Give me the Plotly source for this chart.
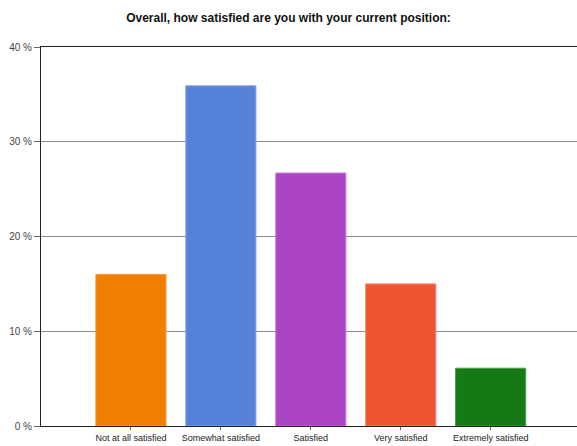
import plotly.graph_objects as go

categories = ["Not at all satisfied", "Somewhat satisfied", "Satisfied", "Very satisfied", "Extremely satisfied"]
percent_values = [16.0, 35.9, 26.7, 15.0, 6.1]
bar_colors = ["#F07E00", "#5582D8", "#AA44C2", "#EE5533", "#157A15"]
edge_colors = ["#FF9A33", "#7FA6F0", "#C77ADD", "#FF8166", "#4C9E4C"]
y_tick_values = [0, 10, 20, 30, 40]
y_tick_labels = ["0 %", "10 %", "20 %", "30 %", "40 %"]

x_pos = list(range(len(categories)))

fig = go.Figure()
fig.add_trace(go.Bar(
    x=x_pos,
    y=percent_values,
    width=0.78,
    marker=dict(color=bar_colors, line=dict(color=edge_colors, width=1)),
    hoverinfo="skip",
))

fig.update_layout(
    width=577, height=446,
    margin=dict(l=41, r=0, t=47, b=20, autoexpand=False),
    paper_bgcolor="white",
    plot_bgcolor="white",
    showlegend=False,
    title=dict(
        text="<b>Overall, how satisfied are you with your current position:</b>",
        x=0.5, xanchor="center", y=0.96, yanchor="middle", yref="container",
        font=dict(family="Liberation Sans, Arial", size=12, color="#111111"),
        automargin=False,
    ),
    font=dict(family="Liberation Sans, Arial", color="#333333"),
)

fig.update_xaxes(
    range=[-1, 4.96],
    tickvals=x_pos,
    ticktext=categories,
    tickfont=dict(size=9, color="#222222"),
    showgrid=False,
    zeroline=False,
    showline=True, linecolor="#222222", linewidth=1, mirror=True,
    ticks="outside", ticklen=3, tickcolor="#666666",
    automargin=False,
    fixedrange=True,
)
fig.update_yaxes(
    range=[0, 40],
    tickvals=y_tick_values,
    ticktext=y_tick_labels,
    tickfont=dict(size=10, color="#444444"),
    showgrid=True, gridcolor="#8c8c8c", gridwidth=1.3,
    zeroline=False,
    showline=True, linecolor="#222222", linewidth=1,
    ticks="outside", ticklen=6, tickcolor="#666666",
    automargin=False,
    fixedrange=True,
)

fig.write_html(
    "out.html",
    config={"displayModeBar": False},
    post_script="document.body.style.margin='0px';document.body.style.overflow='hidden';",
)
